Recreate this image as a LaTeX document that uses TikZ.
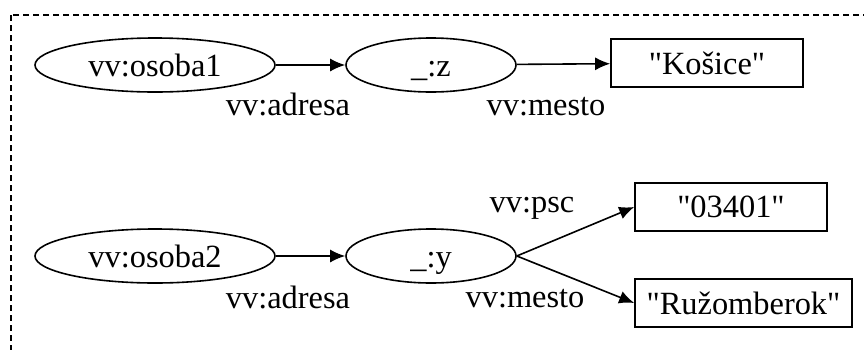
\documentclass[tikz,border=0pt]{standalone}
\usepackage{fontspec}
\setmainfont{Liberation Serif}[Ligatures=TeXOff]
\usetikzlibrary{arrows.meta,shapes.geometric}

\begin{document}
\begin{tikzpicture}[x=0.5pt,y=-0.5pt]
\tikzset{ >={Latex[length=7.5pt,width=6.5pt]}, inner sep=0pt,
  every node/.style={font=\fontsize{16.2}{18}\selectfont},
  res/.style={draw, ellipse, line width=0.8pt, minimum height=27pt, text height=11pt, text depth=0pt},
  lit/.style={draw, rectangle, line width=0.8pt, minimum height=24pt, minimum width=96pt},
  link/.style={->, line width=0.8pt},
  lab/.style={anchor=base},
}

\useasboundingbox (0,0) rectangle (864,349);
\clip (0,0) rectangle (864,349);

% graph frame, runs off the page on the right and bottom
\draw [line width=0.75pt, dash pattern=on 3pt off 2pt] (11,15) rectangle (880,370);

% first person
\node [res, minimum width=120pt] (O1) at (155,65) {vv:osoba1};
\node [res, minimum width=85pt]  (Z)  at (431,65) {\_:z};
\node [lit] (KE) at (707,63) {"Košice"};

\draw [link] (O1) -- (Z);
\draw [link] (Z)  -- (KE);

\node [lab] (A1) at (288,115) {vv:adresa};
\node [lab] (M1) at (546,115) {vv:mesto};

% second person
\node [res, minimum width=120pt] (O2) at (155,256) {vv:osoba2};
\node [res, minimum width=85pt]  (Y)  at (431,256) {\_:y};
\node [lit] (PSC) at (731,207) {"03401"};
\node [lit, minimum width=108.5pt] (RK) at (743.5,303) {"Ružomberok"};

\draw [link] (O2)     -- (Y);
\draw [link] (Y.east) -- (PSC.west);
\draw [link] (Y.east) -- (RK.west);

\node [lab] (A2) at (288,308) {vv:adresa};
\node [lab] (P2) at (532,212) {vv:psc};
\node [lab] (M2) at (525,307) {vv:mesto};
\end{tikzpicture}
\end{document}
